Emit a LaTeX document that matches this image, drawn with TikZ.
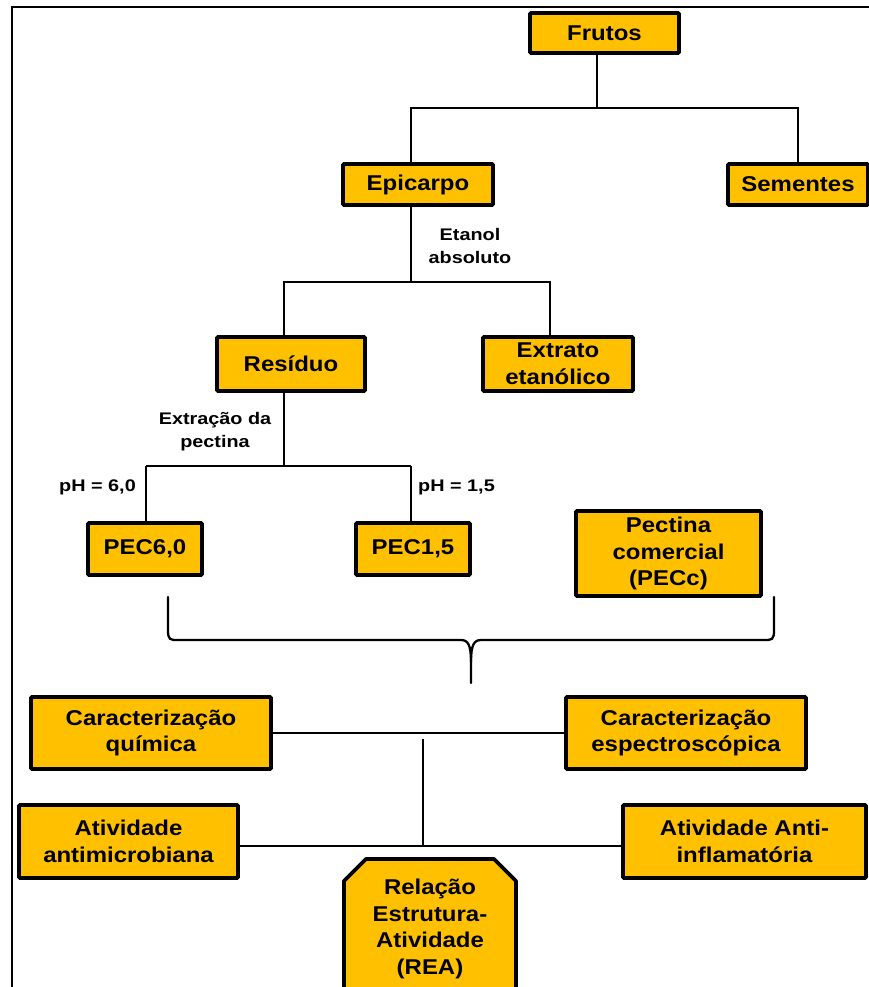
\documentclass[tikz,border=0pt]{standalone}
\usepackage{fontspec}
\usepackage{xcolor}
\usepackage{tikz}
\usetikzlibrary{positioning}
\newfontfamily\boxfont[FakeStretch=1.12]{Liberation Sans}
\newfontfamily\labfont[FakeStretch=1.18]{Liberation Sans}
\definecolor{boxfill}{RGB}{255,192,0}
\begin{document}
\begin{tikzpicture}[
  x=1pt,y=-1pt,
  box/.style={rectangle,draw,line width=3.8pt,fill=boxfill,rounded corners=1pt,align=center,inner sep=0pt,
    font=\boxfont\bfseries\fontsize{21.4}{26.7}\selectfont},
  boxtext/.style={align=center,inner sep=0pt,font=\boxfont\bfseries\fontsize{21.4}{26.7}\selectfont},
  lbl/.style={align=center,inner sep=0pt,font=\labfont\bfseries\fontsize{16.8}{22.7}\selectfont},
  conn/.style={line width=2.3pt},
  thinconn/.style={line width=1.5pt},
]
\clip (0,0) rectangle (869,987);
\fill[white] (0,0) rectangle (869,987);
\draw[line width=2.5pt] (12,987) -- (12,7) -- (869,7);

\node [box,minimum width=149,minimum height=40] (frutos) at (604.5,33) {Frutos};
\node [box,minimum width=150,minimum height=41] (epicarpo) at (418,184.5) {Epicarpo};
\node [box,minimum width=140,minimum height=41] (sementes) at (798,184.5) {Sementes};
\node [box,minimum width=148,minimum height=54] (residuo) at (291,364) {Resíduo};
\node [box,minimum width=150,minimum height=54] (extrato) at (558,364) {Extrato\\etanólico};
\node [box,minimum width=114,minimum height=52] (pec60) at (145,549) {PEC6,0};
\node [box,minimum width=114,minimum height=52] (pec15) at (413,549) {PEC1,5};
\node [box,minimum width=185,minimum height=85] (pecc) at (668.5,553.5) {Pectina\\comercial\\(PECc)};
\node [box,minimum width=240,minimum height=72] (quimica) at (151,733) {Caracterização\\química};
\node [box,minimum width=240,minimum height=72] (espectro) at (686,733) {Caracterização\\espectroscópica};
\node [box,minimum width=219,minimum height=73] (antimic) at (128.5,841.5) {Atividade\\antimicrobiana};
\node [box,minimum width=243,minimum height=73] (antiinf) at (744.5,841.5) {Atividade Anti-\\inflamatória};
\draw[line width=3.8pt,fill=boxfill,line join=round] (344,1000) -- (344,881) -- (366,859) -- (494,859) -- (516,881) -- (516,1000) -- cycle;
\node [boxtext] (rea) at (430,929) {Relação\\Estrutura-\\Atividade\\(REA)};

\node [lbl] (etanol) at (470,246) {Etanol\\absoluto};
\node [lbl] (extracao) at (215,432) {Extração da\\pectina};
\node [lbl] (ph60) at (97.5,487) {pH = 6,0};
\node [lbl] (ph15) at (456.5,487) {pH = 1,5};

\coordinate (fr) at (597,108);
\coordinate (ep) at (411,282);
\coordinate (ex) at (550,282);
\coordinate (re) at (284,466);
\coordinate (p6) at (146,466);
\coordinate (p1) at (411,466);
\coordinate (cv) at (423,739);
\coordinate (at) at (423,846);

\draw[conn] (frutos.south -| fr) -- (fr);
\draw[conn] (epicarpo.north -| ep) |- (fr) -| (sementes.north);
\draw[conn] (epicarpo.south -| ep) -- (ep);
\draw[conn] (residuo.north -| re) |- (ep) -- (ex) -- (extrato.north -| ex);
\draw[conn] (residuo.south -| re) -- (re);
\draw[conn] (p6) -- (p1);
\draw[thinconn] (p6) -- (pec60.north -| p6);
\draw[thinconn] (p1) -- (pec15.north -| p1);
\draw[conn] (quimica.east) -- (espectro.west);
\draw[conn] (cv) -- (at);
\draw[conn] (antimic.east |- at) -- (antiinf.west |- at);

\draw[conn,line cap=round] (168,597) -- (168,630) .. controls (168,640) and (170,640) .. (178,640)
  -- (461,640) .. controls (468,640) and (471,645) .. (471,662) -- (471,683);
\draw[conn,line cap=round] (774,597) -- (774,630) .. controls (774,640) and (772,640) .. (764,640)
  -- (481,640) .. controls (474,640) and (471,645) .. (471,662);
\end{tikzpicture}
\end{document}
